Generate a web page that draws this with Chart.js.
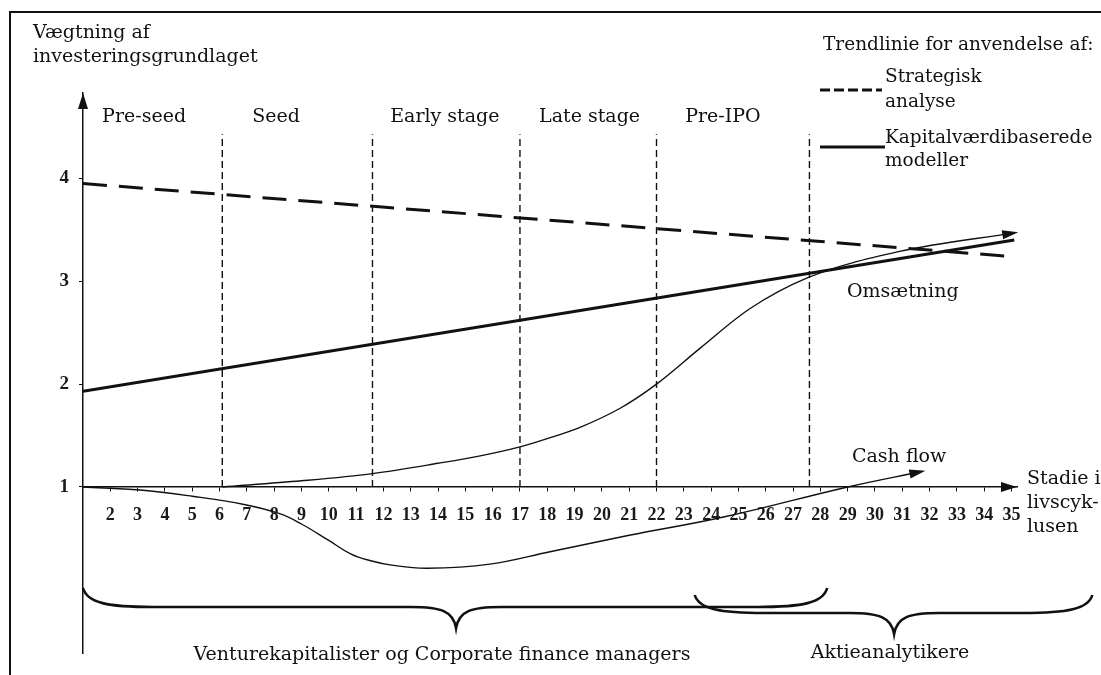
<!DOCTYPE html>
<html>
<head>
<meta charset="utf-8">
<script src="https://cdn.jsdelivr.net/npm/chart.js@4.4.1/dist/chart.umd.min.js"></script>
<style>
  html, body { margin: 0; padding: 0; background: #fff; }
  #wrap { width: 1101px; height: 675px; }
</style>
</head>
<body>
<div id="wrap"><canvas id="chart" width="1101" height="675"></canvas></div>
<script>
// stadier i livscyklusen (x) og vægtning (y)
const stageTicks = [2, 3, 4, 5, 6, 7, 8, 9, 10, 11, 12, 13, 14, 15, 16, 17, 18, 19, 20,
  21, 22, 23, 24, 25, 26, 27, 28, 29, 30, 31, 32, 33, 34, 35];
const weightTicks = [1, 2, 3, 4];

const stageNames = ['Pre-seed', 'Seed', 'Early stage', 'Late stage', 'Pre-IPO'];
const stageLabelX = [1.7, 7.2, 12.25, 17.7, 23.05];
const stageBounds = [6.1, 11.6, 17.0, 22.0, 27.6];
const stageTop = 4.43;

// trendlinier
const strategiskX = [1, 35];
const strategiskY = [3.95, 3.24];
const kapitalX = [1, 35.1];
const kapitalY = [1.93, 3.40];

// omsætning og cash flow
const omsX = [6.1, 9, 11.6, 14, 15.5, 17, 18, 19.2, 20.7, 22, 23.6, 25.4, 27.5, 30.9, 35.1];
const omsY = [1.0, 1.06, 1.13, 1.23, 1.30, 1.39, 1.47, 1.58, 1.77, 2.0, 2.35, 2.73, 3.03, 3.29, 3.47];
const cashX = [1, 3.1, 5, 6.9, 8.2, 9.0, 10, 10.8, 11.5, 12.3, 13.6, 15.9, 18.1, 21, 24.5, 29.0, 31.7];
const cashY = [1, 0.97, 0.91, 0.83, 0.74, 0.64, 0.48, 0.35, 0.285, 0.24, 0.21, 0.25, 0.37, 0.53, 0.71, 1.0, 1.15];

// klammer nederst: [fra, spids, til]
const braceVenture = [1, 14.66, 28.25];
const braceAktie = [23.4, 30.7, 37.96];

const pts = (xs, ys) => xs.map((x, i) => ({ x: x, y: ys[i] }));
const INK = '#111';
const SERIF = '"DejaVu Serif", serif';

const datasets = [];
stageBounds.forEach(b => {
  datasets.push({
    data: pts([b, b], [1, stageTop]),
    borderColor: INK, borderWidth: 1.4, borderDash: [7, 4], pointRadius: 0
  });
});
datasets.push({
  label: 'Strategisk analyse',
  data: pts(strategiskX, strategiskY),
  borderColor: INK, borderWidth: 3, borderDash: [24, 12], pointRadius: 0
});
datasets.push({
  label: 'Kapitalværdibaserede modeller',
  data: pts(kapitalX, kapitalY),
  borderColor: INK, borderWidth: 3, pointRadius: 0
});
datasets.push({
  label: 'Omsætning',
  data: pts(omsX, omsY),
  borderColor: INK, borderWidth: 1.4, pointRadius: 0, cubicInterpolationMode: 'monotone'
});
datasets.push({
  label: 'Cash flow',
  data: pts(cashX, cashY),
  borderColor: INK, borderWidth: 1.4, pointRadius: 0, tension: 0.4
});

function arrowHead(ctx, x, y, angle, len, wid) {
  ctx.save();
  ctx.translate(x, y);
  ctx.rotate(angle);
  ctx.beginPath();
  ctx.moveTo(0, 0);
  ctx.lineTo(-len, -wid / 2);
  ctx.lineTo(-len, wid / 2);
  ctx.closePath();
  ctx.fill();
  ctx.restore();
}

function brace(ctx, x1, xm, x2, yEnd, yLine, yTip) {
  ctx.beginPath();
  ctx.moveTo(x1, yEnd);
  ctx.bezierCurveTo(x1 + 4, yLine - 4, x1 + 25, yLine, x1 + 70, yLine);
  ctx.lineTo(xm - 45, yLine);
  ctx.bezierCurveTo(xm - 15, yLine, xm - 3, yLine + 4, xm, yTip);
  ctx.bezierCurveTo(xm + 3, yLine + 4, xm + 15, yLine, xm + 45, yLine);
  ctx.lineTo(x2 - 70, yLine);
  ctx.bezierCurveTo(x2 - 25, yLine, x2 - 4, yLine - 4, x2, yEnd);
  ctx.stroke();
}

const decor = {
  id: 'decor',
  afterDraw(chart) {
    const ctx = chart.ctx;
    const xs = chart.scales.x, ys = chart.scales.y;
    const area = chart.chartArea;
    ctx.save();
    ctx.fillStyle = INK;
    ctx.strokeStyle = INK;

    // ramme
    ctx.lineWidth = 2;
    ctx.beginPath();
    ctx.moveTo(10, 675);
    ctx.lineTo(10, 12);
    ctx.lineTo(1101, 12);
    ctx.stroke();

    // pile på akserne
    arrowHead(ctx, area.right, ys.getPixelForValue(1), 0, 16, 10);
    arrowHead(ctx, area.left, area.top, -Math.PI / 2, 16, 10);

    // pile på omsætning og cash flow
    [[omsX, omsY], [cashX, cashY]].forEach(([ax, ay]) => {
      const n = ax.length;
      const px = xs.getPixelForValue(ax[n - 1]), py = ys.getPixelForValue(ay[n - 1]);
      const qx = xs.getPixelForValue(ax[n - 2]), qy = ys.getPixelForValue(ay[n - 2]);
      const ang = Math.atan2(py - qy, px - qx);
      arrowHead(ctx, px + 4 * Math.cos(ang), py + 4 * Math.sin(ang), ang, 16, 9);
    });

    ctx.font = '19px ' + SERIF;
    ctx.textBaseline = 'middle';
    ctx.textAlign = 'left';

    // y-akse titel
    ctx.fillText('Vægtning af', 33, 33);
    ctx.fillText('investeringsgrundlaget', 33, 57);

    // stadier
    stageNames.forEach((s, i) => {
      ctx.fillText(s, xs.getPixelForValue(stageLabelX[i]), 117);
    });

    // forklaring
    ctx.font = '18.5px ' + SERIF;
    ctx.fillText('Trendlinie for anvendelse af:', 823, 45);
    ctx.fillText('Strategisk', 885, 77);
    ctx.fillText('analyse', 885, 102);
    ctx.fillText('Kapitalværdibaserede', 885, 138);
    ctx.fillText('modeller', 885, 161);
    ctx.lineWidth = 3;
    ctx.setLineDash([10, 4]);
    ctx.beginPath(); ctx.moveTo(820, 90); ctx.lineTo(882, 90); ctx.stroke();
    ctx.setLineDash([]);
    ctx.beginPath(); ctx.moveTo(820, 147); ctx.lineTo(885, 147); ctx.stroke();

    // x-akse titel
    ctx.font = '19px ' + SERIF;
    ctx.fillText('Stadie i', 1027, 479);
    ctx.fillText('livscyk-', 1027, 503);
    ctx.fillText('lusen', 1027, 527);

    // serie-navne
    ctx.fillText('Omsætning', 847, 292);
    ctx.fillText('Cash flow', 852, 457);

    // klammer
    ctx.lineWidth = 2.6;
    brace(ctx, xs.getPixelForValue(braceVenture[0]), xs.getPixelForValue(braceVenture[1]),
      xs.getPixelForValue(braceVenture[2]), 588, 607, 628);
    brace(ctx, xs.getPixelForValue(braceAktie[0]), xs.getPixelForValue(braceAktie[1]),
      xs.getPixelForValue(braceAktie[2]), 595, 613, 634);

    ctx.textAlign = 'center';
    ctx.fillText('Venturekapitalister og Corporate finance managers', 442, 655);
    ctx.fillText('Aktieanalytikere', 890, 653);
    ctx.restore();
  }
};

new Chart(document.getElementById('chart'), {
  type: 'line',
  data: { datasets: datasets },
  options: {
    responsive: false,
    animation: false,
    events: [],
    layout: { padding: { left: 10, right: 84, top: 93, bottom: 12 } },
    plugins: { legend: { display: false }, tooltip: { enabled: false } },
    scales: {
      x: {
        type: 'linear', min: 1, max: 35.2,
        position: { y: 1 },
        afterBuildTicks: axis => { axis.ticks = stageTicks.map(v => ({ value: v })); },
        grid: { drawOnChartArea: false, tickLength: 4, color: INK },
        border: { color: INK, width: 1.5 },
        ticks: {
          autoSkip: false, maxRotation: 0, padding: 14, color: '#1a1a1a',
          font: { family: '"Liberation Serif", serif', size: 18, weight: 'bold' }
        }
      },
      y: {
        type: 'linear', min: -0.62, max: 4.83,
        position: 'left',
        afterBuildTicks: axis => { axis.ticks = weightTicks.map(v => ({ value: v })); },
        afterFit: axis => { axis.width = 73; },
        grid: { drawOnChartArea: false, tickLength: 4, color: INK },
        border: { color: INK, width: 1.5 },
        ticks: {
          padding: 10, color: '#1a1a1a',
          font: { family: '"Liberation Serif", serif', size: 19, weight: 'bold' }
        }
      }
    }
  },
  plugins: [decor]
});
</script>
</body>
</html>
